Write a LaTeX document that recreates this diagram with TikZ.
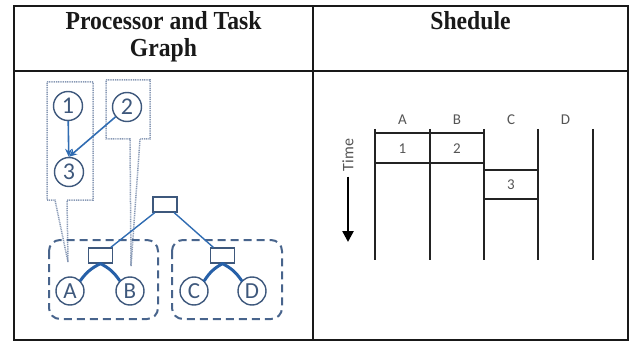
\documentclass[tikz,border=0pt]{standalone}
\usepackage{fontspec}
\setmainfont{Liberation Serif}
\newfontfamily\carl{Carlito}
\usetikzlibrary{arrows.meta,calc}

\definecolor{rule}{RGB}{25,25,25}
\definecolor{circline}{RGB}{62,88,124}
\definecolor{linkblue}{RGB}{48,108,178}
\definecolor{boldblue}{RGB}{38,96,168}
\definecolor{groupline}{RGB}{72,100,140}
\definecolor{calloutline}{RGB}{135,152,180}
\definecolor{chart}{RGB}{35,35,35}
\definecolor{charttext}{RGB}{85,85,85}

\tikzset{
  head/.style={font=\fontsize{26}{26}\selectfont\bfseries, xscale=0.91, transform shape, anchor=base, text=rule},
  task/.style={circle, draw=circline, line width=1.4pt, minimum size=29pt, inner sep=0pt,
               text=circline, font=\carl\fontsize{24}{24}\selectfont},
  proc/.style={circle, draw=circline, line width=1.4pt, minimum size=28pt, inner sep=0pt,
               text=circline, font=\carl\fontsize{23}{23}\selectfont},
  sw/.style={rectangle, draw=circline, line width=1.2pt, fill=white, minimum width=24pt,
             minimum height=15pt, inner sep=0pt},
  callout/.style={draw=calloutline, line width=1.5pt, dash pattern=on 1pt off 0.8pt},
  group/.style={draw=groupline, line width=2pt, dash pattern=on 8pt off 5pt, rounded corners=11pt},
  dep/.style={draw=linkblue, line width=1.6pt, -{Stealth[length=8pt,width=7pt]}},
  link/.style={draw=linkblue, line width=1.4pt},
  bold/.style={draw=boldblue, line width=3pt, line cap=round},
  lane/.style={draw=chart, line width=2pt},
  slot/.style={draw=chart, line width=1.4pt},
  lbl/.style={text=charttext, font=\carl\fontsize{15}{15}\selectfont}
}

\begin{document}
\begin{tikzpicture}[x=1pt,y=-1pt]
\useasboundingbox (0,0) rectangle (629,342);

% table frame
\draw[rule, line width=1.8pt] (14,6) rectangle (628,340);
\draw[rule, line width=1.8pt] (14,71) -- (628,71);
\draw[rule, line width=1.8pt] (313,6) -- (313,340);

% header cells
\node[head] (h1) at (163.5,30) {Processor and Task};
\node[head] (h2) at (163.5,57) {Graph};
\node[head] (h3) at (470.5,30) {Shedule};

% callouts mapping tasks onto processors
\draw[callout] (47,82) -- (93,82) -- (93,200) -- (67,200) -- (68,262) -- (55,200) -- (47,200) -- cycle;
\draw[callout] (106,80) -- (150,80) -- (150,139) -- (140,139) -- (131,266) -- (130,139) -- (106,139) -- cycle;

% task graph
\node[task] (t1) at (68,106) {1};
\node[task] (t2) at (127,107) {2};
\node[task] (t3) at (69,172) {3};
\draw[dep] (t1) -- (t3);
\draw[dep] (t2) -- (t3.north);

% processor groups
\draw[group] (49,240) rectangle (158,319);
\draw[group] (172,240) rectangle (282,319);

% switch tree
\node[sw] (top) at (165,204.5) {};
\node[sw] (sl) at (100.5,255.5) {};
\node[sw] (sr) at (222.5,255.5) {};
\draw[link] (top) -- (sl);
\draw[link] (top) -- (sr);

\node[proc] (A) at (70,291) {A};
\node[proc] (B) at (130,291) {B};
\node[proc] (C) at (194,291) {C};
\node[proc] (D) at (252,291) {D};

\draw[bold] (sl.south) to[bend right=14] (A.north east);
\draw[bold] (sl.south) to[bend left=14] (B.north west);
\draw[bold] (sr.south) to[bend right=14] (C.north east);
\draw[bold] (sr.south) to[bend left=14] (D.north west);

% schedule chart
\node[lbl] (la) at (402.5,120) {A};
\node[lbl] (lb) at (457,120) {B};
\node[lbl] (lc) at (511,120) {C};
\node[lbl] (ld) at (565.5,120) {D};

\foreach \x in {375,430,484,538,593} \draw[lane] (\x,129) -- (\x,260);

\draw[slot] (375,133) -- (484,133);
\draw[slot] (375,163) -- (484,163);
\draw[slot] (484,170) -- (538,170);
\draw[slot] (484,199) -- (538,199);

\node[lbl] (s1) at (402.5,149) {1};
\node[lbl] (s2) at (457,149) {2};
\node[lbl] (s3) at (511,185) {3};

\node[lbl, rotate=90, font=\carl\fontsize{16}{16}\selectfont] (time) at (348,155) {Time};
\coordinate (tend) at (348,242);
\draw[draw=black, line width=2.5pt, -{Triangle[length=11pt,width=11pt]}] (time.west) ++(0,2) -- (tend);
\end{tikzpicture}
\end{document}
